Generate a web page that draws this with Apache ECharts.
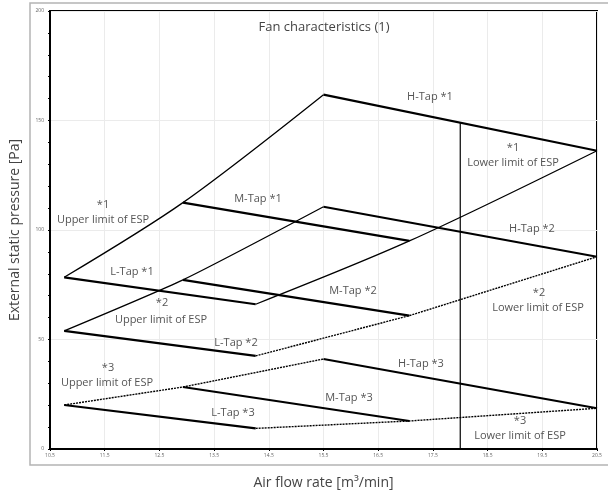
<!DOCTYPE html>
<html><head><meta charset="utf-8">
<script src="https://cdn.jsdelivr.net/npm/echarts@6/dist/echarts.min.js"></script>
<style>html,body{margin:0;padding:0;background:#fff}#c{width:608px;height:499px}</style>
</head><body><div id="c"></div>
<script>
// ---- data (air flow rate [m3/min], external static pressure [Pa]) ----
const xTickLabels = ['10.5','11.5','12.5','13.5','14.5','15.5','16.5','17.5','18.5','19.5','20.5'];
const xMin = 10.5, xMax = 20.5;

const lTap1 = [[10.76, 78.4], [14.26, 66.1]];
const mTap1 = [[12.93, 112.5], [17.07, 95.0]];
const hTap1 = [[15.5, 161.8], [20.5, 136.2]];
const lTap2 = [[10.76, 53.9], [14.26, 42.5]];
const mTap2 = [[12.93, 77.2], [17.07, 60.9]];
const hTap2 = [[15.5, 110.6], [20.5, 87.8]];
const lTap3 = [[10.76, 20.1], [14.26, 9.4]];
const mTap3 = [[12.93, 28.3], [17.07, 12.8]];
const hTap3 = [[15.5, 41.1], [20.5, 18.6]];
const ratedFlowLine = [[18.0, 0], [18.0, 149.0]];

// ---- text ----
const titleText = 'Fan characteristics (1)';
const xTitle = 'Air flow rate [m\u00B3/min]';
const yTitle = 'External static pressure [Pa]';
const annotations = [
  ['H-Tap *1', 430, 97], ['*1', 513, 148], ['Lower limit of ESP', 513, 163],
  ['*1', 103, 205], ['Upper limit of ESP', 103, 220],
  ['M-Tap *1', 258, 199], ['L-Tap *1', 132, 272],
  ['*2', 162, 303], ['Upper limit of ESP', 161, 320],
  ['M-Tap *2', 353, 291], ['H-Tap *2', 532, 229],
  ['*2', 539, 293], ['Lower limit of ESP', 538, 308],
  ['L-Tap *2', 236, 343],
  ['*3', 108, 368], ['Upper limit of ESP', 107, 383],
  ['H-Tap *3', 421, 364], ['M-Tap *3', 349, 398], ['L-Tap *3', 233, 413],
  ['*3', 520, 421], ['Lower limit of ESP', 520, 436]
];

const FONT = '"Open Sans", "Noto Sans", sans-serif';
const tapStyle = {color: '#000', width: 2.2};
const limitSolid = {color: '#000', width: 1.3};
const limitDotted = {color: '#000', width: 1.4, type: [2, 1]};

function line(data, style, smooth) {
  return {type: 'line', data: data, xAxisIndex: 1, yAxisIndex: 0, symbol: 'none',
          smooth: smooth || false,
          lineStyle: style, silent: true, animation: false, z: 3};
}
const upper = (a, b, c) => [a[0], b[0], c[0]];
const lower = (a, b, c) => [a[1], b[1], c[1]];

const series = [
  line(lTap1, tapStyle), line(mTap1, tapStyle), line(hTap1, tapStyle),
  line(lTap2, tapStyle), line(mTap2, tapStyle), line(hTap2, tapStyle),
  line(lTap3, tapStyle), line(mTap3, tapStyle), line(hTap3, tapStyle),
  line(upper(lTap1, mTap1, hTap1), limitSolid, 0.3),
  line(lower(lTap1, mTap1, hTap1), limitSolid, 0.3),
  line(upper(lTap2, mTap2, hTap2), limitSolid, 0.2),
  line(lower(lTap2, mTap2, hTap2), limitDotted),
  line(upper(lTap3, mTap3, hTap3), limitDotted),
  line(lower(lTap3, mTap3, hTap3), limitDotted),
  line(ratedFlowLine, {color: '#000', width: 1.2})
];

const graphics = [
  {type: 'rect', shape: {x: 30, y: 3, width: 600, height: 462}, z: 0,
   style: {fill: 'none', stroke: '#b4b4b4', lineWidth: 1.5}},
  {type: 'text', x: 324, y: 27, z: 10,
   style: {text: titleText, fill: '#444', font: '13px ' + FONT, textAlign: 'center', textVerticalAlign: 'middle'}}
].concat(annotations.map(a => ({
  type: 'text', x: a[1], y: a[2], z: 10,
  style: {text: a[0], fill: '#555', font: '11px ' + FONT, textAlign: 'center', textVerticalAlign: 'middle'}
})));

const chart = echarts.init(document.getElementById('c'));
chart.setOption({
  animation: false,
  backgroundColor: '#fff',
  grid: {left: 49, right: 11, top: 11, bottom: 50, show: true, borderColor: '#000', borderWidth: 2, backgroundColor: 'transparent'},
  xAxis: [
    { // visible tick axis: one tick per label in xTickLabels
      type: 'value', min: 0, max: xTickLabels.length - 1, interval: 1, position: 'bottom',
      name: xTitle, nameLocation: 'middle', nameGap: 27,
      nameTextStyle: {fontFamily: FONT, fontSize: 14, color: '#444'},
      axisLine: {show: true, lineStyle: {color: '#000', width: 2}},
      axisTick: {show: true, length: 2, lineStyle: {color: '#000'}},
      axisLabel: {fontSize: 5, color: '#666', margin: 4, fontFamily: FONT, formatter: v => xTickLabels[v]},
      splitLine: {show: true, lineStyle: {color: '#ebebeb', width: 1}}
    },
    { // data axis for series
      type: 'value', min: xMin, max: xMax, show: false
    }
  ],
  yAxis: {
    type: 'value', min: 0, max: 200, interval: 50,
    name: yTitle, nameLocation: 'middle', nameGap: 28, nameRotate: 90,
    nameTextStyle: {fontFamily: FONT, fontSize: 14, color: '#444'},
    axisLine: {show: true, lineStyle: {color: '#000', width: 2}},
    axisTick: {show: true, length: 2, lineStyle: {color: '#000'}},
    minorTick: {show: true, splitNumber: 5, length: 2, lineStyle: {color: '#000'}},
    axisLabel: {fontSize: 5, color: '#666', margin: 6, fontFamily: FONT},
    splitLine: {show: true, lineStyle: {color: '#ebebeb', width: 1}}
  },
  series: series,
  graphic: graphics
});
</script></body></html>
